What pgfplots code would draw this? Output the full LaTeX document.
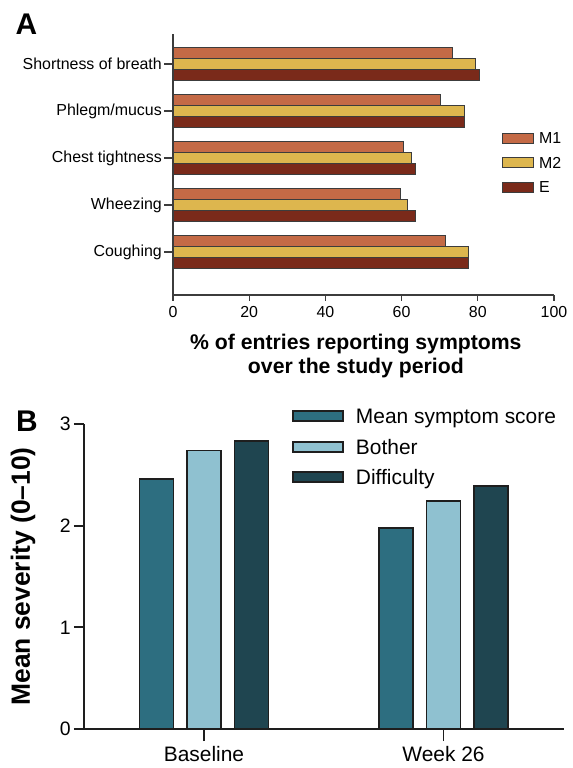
\documentclass[border=0pt]{standalone}
\usepackage{fontspec}
\setmainfont{Liberation Sans}
\usepackage{pgfplots}
\usepackage{pgfplotstable}
\pgfplotsset{compat=1.18}

\definecolor{mone}{RGB}{196,106,70}
\definecolor{mtwo}{RGB}{221,182,78}
\definecolor{eee}{RGB}{122,42,26}
\definecolor{msym}{RGB}{45,110,128}
\definecolor{both}{RGB}{143,193,208}
\definecolor{diff}{RGB}{31,69,80}
\definecolor{lineA}{RGB}{60,60,60}
\definecolor{lineB}{RGB}{30,30,30}

% panel A: % of entries reporting each symptom (0 = Coughing ... 4 = Shortness of breath)
\pgfplotstableread{
pos M1   M2   E
0   71.5 77.5 77.5
1   59.7 61.6 63.6
2   60.5 62.5 63.6
3   70.2 76.5 76.5
4   73.4 79.3 80.5
}\symptoms

% panel B: mean severity (0 = Baseline, 1 = Week 26)
\pgfplotstableread{
pos score bother difficulty
0   2.46  2.74   2.83
1   1.98  2.24   2.39
}\severity

\begin{document}
\begin{tikzpicture}[x=1bp,y=1bp]
\useasboundingbox (0,0) rectangle (573,768);

\node[font=\fontsize{30}{32}\selectfont\bfseries] at (26.5,744) {A};
\node[font=\fontsize{30}{32}\selectfont\bfseries] at (27,347) {B};

\begin{axis}[
  at={(173bp,473bp)}, anchor=south west,
  scale only axis, width=381bp, height=261bp,
  xbar, bar width=0.235,
  xmin=0, xmax=100, ymin=-0.915, ymax=4.638,
  axis x line=bottom, axis y line=left,
  axis line style={-, draw=lineA, line width=1.2bp},
  tick align=outside, major tick length=9bp,
  tick style={draw=lineA, line width=1.2bp},
  xtick style={/pgfplots/major tick length=6bp},
  xtick={0,20,...,100}, ytick={0,1,2,3,4},
  yticklabels={Coughing, Wheezing, Chest tightness, Phlegm/mucus, Shortness of breath},
  /pgf/number format/assume math mode=true,
  ticklabel style={font=\fontsize{16}{18}\selectfont, inner sep=2bp},
  xlabel={\% of entries reporting symptoms\\over the study period},
  xlabel style={font=\fontsize{21.3}{24}\selectfont\bfseries, align=center,
    at={(axis description cs:0.48,-0.234)}, anchor=center},
  legend style={at={(rel axis cs:0.8635,0.623)}, anchor=north west,
    draw=none, fill=none, inner sep=0pt, row sep=13.2bp, column sep=5bp,
    nodes={inner sep=0pt, text height=11.3bp, text depth=0pt,
      font=\fontsize{16}{18}\selectfont}},
  legend cell align=left,
  legend image code/.code={\draw[#1] (0bp,-5bp) rectangle (31bp,5bp);},
  every axis plot/.append style={draw=lineA, line width=1bp},
]
\addplot[fill=mone, bar shift=0.235] table[x=M1, y=pos] {\symptoms};
\addplot[fill=mtwo, bar shift=0] table[x=M2, y=pos] {\symptoms};
\addplot[fill=eee, bar shift=-0.235] table[x=E, y=pos] {\symptoms};
\legend{M1, M2, E}
\end{axis}

\begin{axis}[
  at={(84bp,39bp)}, anchor=south west,
  scale only axis, width=480bp, height=305bp,
  ybar, bar width=0.142,
  xmin=-0.501, xmax=1.503, ymin=0, ymax=3,
  axis x line=bottom, axis y line=left,
  axis line style={-, draw=lineB, line width=2.2bp},
  tick align=outside, major tick length=10bp,
  tick style={draw=lineB, line width=1.8bp},
  xtick style={/pgfplots/major tick length=12bp},
  xtick={0,1}, xticklabels={Baseline, Week 26},
  ytick={0,1,2,3},
  /pgf/number format/assume math mode=true,
  xticklabel style={font=\fontsize{21}{24}\selectfont, inner sep=3bp, yshift=-4bp},
  yticklabel style={font=\fontsize{19.5}{22}\selectfont, inner sep=3bp},
  ylabel={Mean severity (0–10)},
  ylabel style={font=\fontsize{26.5}{30}\selectfont\bfseries,
    at={(axis description cs:-0.127,0.5)}, anchor=center},
  legend style={at={(rel axis cs:0.4333,1.0508)}, anchor=north west,
    draw=none, fill=none, inner sep=0pt, row sep=15.4bp, column sep=12bp,
    nodes={inner sep=0pt, text height=15.1bp, text depth=0pt,
      font=\fontsize{21}{24}\selectfont}},
  legend cell align=left,
  legend image code/.code={\draw[#1] (0bp,-5bp) rectangle (50bp,5bp);},
  every axis plot/.append style={draw=lineB, line width=1.8bp},
]
\addplot[fill=msym, bar shift=-0.198] table[x=pos, y=score] {\severity};
\addplot[fill=both, bar shift=0] table[x=pos, y=bother] {\severity};
\addplot[fill=diff, bar shift=0.198] table[x=pos, y=difficulty] {\severity};
\legend{Mean symptom score, Bother, Difficulty}
\end{axis}
\end{tikzpicture}
\end{document}
